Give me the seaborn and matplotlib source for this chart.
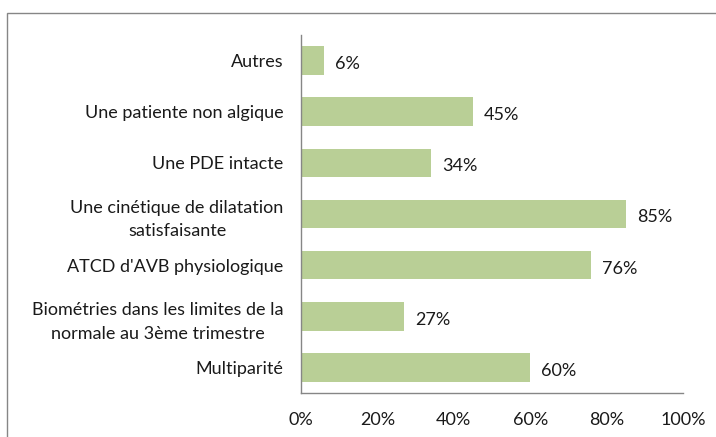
import matplotlib
matplotlib.use("Agg")
import matplotlib.pyplot as plt
import matplotlib.patches as mpatches
import seaborn as sns
import pandas as pd

categories = [
    "Autres",
    "Une patiente non algique",
    "Une PDE intacte",
    "Une cinétique de dilatation\nsatisfaisante",
    "ATCD d'AVB physiologique",
    "Biométries dans les limites de la\nnormale au 3ème trimestre",
    "Multiparité",
]
values = [6, 45, 34, 85, 76, 27, 60]
tick_values = [0, 20, 40, 60, 80, 100]
tick_labels = ["0%", "20%", "40%", "60%", "80%", "100%"]

bar_color = "#B9CF96"
line_color = "#868686"
text_color = "#1a1a1a"
fs = 13

sns.set_theme(style="white")
plt.rcParams["font.family"] = ["Lato", "DejaVu Sans"]

df = pd.DataFrame({"cat": categories, "val": values})

fig = plt.figure(figsize=(7.16, 4.37), dpi=100)
ax = fig.add_axes([301 / 716, 1 - 393 / 437, (683 - 301) / 716, (393 - 35) / 437])

sns.barplot(data=df, x="val", y="cat", orient="h", color=bar_color,
            saturation=1, width=0.56, ax=ax)
for p in ax.patches:
    p.set_edgecolor("none")

value_texts = ax.bar_label(ax.containers[0], labels=[f"{v}%" for v in values],
                           padding=8, fontsize=fs, color=text_color)
for t in value_texts:
    t.xyann = (8, -2.5)

ax.set_xlim(0, 100)
ax.set_xticks(tick_values)
ax.set_xticklabels(tick_labels, fontsize=fs, color=text_color)
ax.tick_params(axis="x", length=0, pad=13.5)
ax.tick_params(axis="y", length=0, pad=12.5, labelsize=fs, labelcolor=text_color)
for lbl in ax.get_yticklabels():
    lbl.set_horizontalalignment("right")
    lbl.set_multialignment("center")
    lbl.set_linespacing(1.6)
ax.set_xlabel("")
ax.set_ylabel("")

for side in ["top", "right"]:
    ax.spines[side].set_visible(False)
for side in ["left", "bottom"]:
    ax.spines[side].set_color(line_color)
    ax.spines[side].set_linewidth(1)

# outer chart frame
frame = mpatches.Rectangle((7 / 716, -0.2), 2, 1 - 13 / 437 + 0.2,
                           transform=fig.transFigure, fill=False,
                           edgecolor=line_color, linewidth=1)
fig.patches.append(frame)

fig.savefig("out.png", dpi=100)
